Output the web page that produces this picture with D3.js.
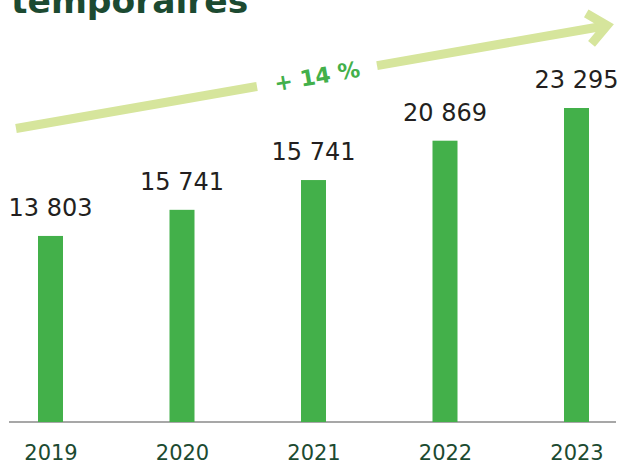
<!DOCTYPE html>
<html>
<head>
<meta charset="utf-8">
<script src="https://cdn.jsdelivr.net/npm/d3@7"></script>
<style>
  html, body { margin: 0; padding: 0; background: #ffffff; }
  svg { display: block; }
</style>
</head>
<body>
<svg id="chart" width="623" height="465"></svg>
<script>
// ---- data ----
const title = "temporaires";
const years = ["2019", "2020", "2021", "2022", "2023"];
const values = [13803, 15741, 17950, 20869, 23295];
const valueLabels = ["13 803", "15 741", "15 741", "20 869", "23 295"];
const growthLabel = "+ 14 %";

// ---- layout ----
const W = 623, H = 465;
const baseY = 422;
const svg = d3.select("#chart");

const x = d3.scalePoint().domain(years).range([50.5, 576.5]);
const y = d3.scaleLinear().domain([0, 23295]).range([baseY, 108]);
const barW = 25;

// title (cut at top, as in the source)
svg.append("text")
  .attr("x", 11).attr("y", 13)
  .attr("font-family", "DejaVu Sans, sans-serif")
  .attr("font-weight", "bold")
  .attr("font-size", 34.5)
  .attr("fill", "#1c4a31")
  .text(title);

// growth arrow
const arrowColor = "#d6e59c";
const p0 = [16, 128.5], tip = [607, 25.5];
const ang = Math.atan2(tip[1] - p0[1], tip[0] - p0[0]);
const gapStart = 257, gapEnd = 377;
const yAt = xx => p0[1] + Math.tan(ang) * (xx - p0[0]);
const shaft = svg.append("g");
shaft.append("line")
  .attr("x1", p0[0]).attr("y1", p0[1])
  .attr("x2", gapStart).attr("y2", yAt(gapStart))
  .attr("stroke", arrowColor).attr("stroke-width", 9);
shaft.append("line")
  .attr("x1", gapEnd).attr("y1", yAt(gapEnd))
  .attr("x2", tip[0] - 4).attr("y2", yAt(tip[0] - 4))
  .attr("stroke", arrowColor).attr("stroke-width", 9);
const armLen = 24, armAng = 40 * Math.PI / 180;
const back = ang + Math.PI;
const a1 = [tip[0] + armLen * Math.cos(back - armAng), tip[1] + armLen * Math.sin(back - armAng)];
const a2 = [tip[0] + armLen * Math.cos(back + armAng), tip[1] + armLen * Math.sin(back + armAng)];
svg.append("path")
  .attr("d", `M${a1[0]},${a1[1]}L${tip[0]},${tip[1]}L${a2[0]},${a2[1]}`)
  .attr("fill", "none")
  .attr("stroke", arrowColor).attr("stroke-width", 9)
  .attr("stroke-linejoin", "miter");

const cx = 317;
svg.append("text")
  .attr("transform", `translate(${cx},${yAt(cx)}) rotate(${ang * 180 / Math.PI})`)
  .attr("text-anchor", "middle")
  .attr("dy", "0.36em")
  .attr("font-family", "DejaVu Sans, sans-serif")
  .attr("font-weight", "bold")
  .attr("font-size", 22)
  .attr("fill", "#43b04a")
  .text(growthLabel);

// baseline
svg.append("line")
  .attr("x1", 9).attr("x2", 616)
  .attr("y1", baseY).attr("y2", baseY)
  .attr("stroke", "#8a8a8a").attr("stroke-width", 1.5);

// bars
svg.append("g").selectAll("rect")
  .data(values)
  .join("rect")
  .attr("x", (d, i) => x(years[i]) - barW / 2)
  .attr("y", d => y(d))
  .attr("width", barW)
  .attr("height", d => baseY - y(d))
  .attr("fill", "#43b04a");

// value labels
svg.append("g").selectAll("text")
  .data(values)
  .join("text")
  .attr("x", (d, i) => x(years[i]))
  .attr("y", d => y(d) - 20)
  .attr("text-anchor", "middle")
  .attr("font-family", "DejaVu Sans, sans-serif")
  .attr("font-size", 24)
  .attr("fill", "#231f20")
  .text((d, i) => valueLabels[i]);

// x axis labels
const xAxis = d3.axisBottom(x).tickSize(0).tickPadding(0);
const gx = svg.append("g")
  .attr("transform", `translate(0,${baseY})`)
  .call(xAxis);
gx.select(".domain").remove();
gx.selectAll("text")
  .attr("y", 38)
  .attr("dy", 0)
  .attr("font-family", "DejaVu Sans, sans-serif")
  .attr("font-size", 21)
  .attr("fill", "#1c4a31");
</script>
</body>
</html>
